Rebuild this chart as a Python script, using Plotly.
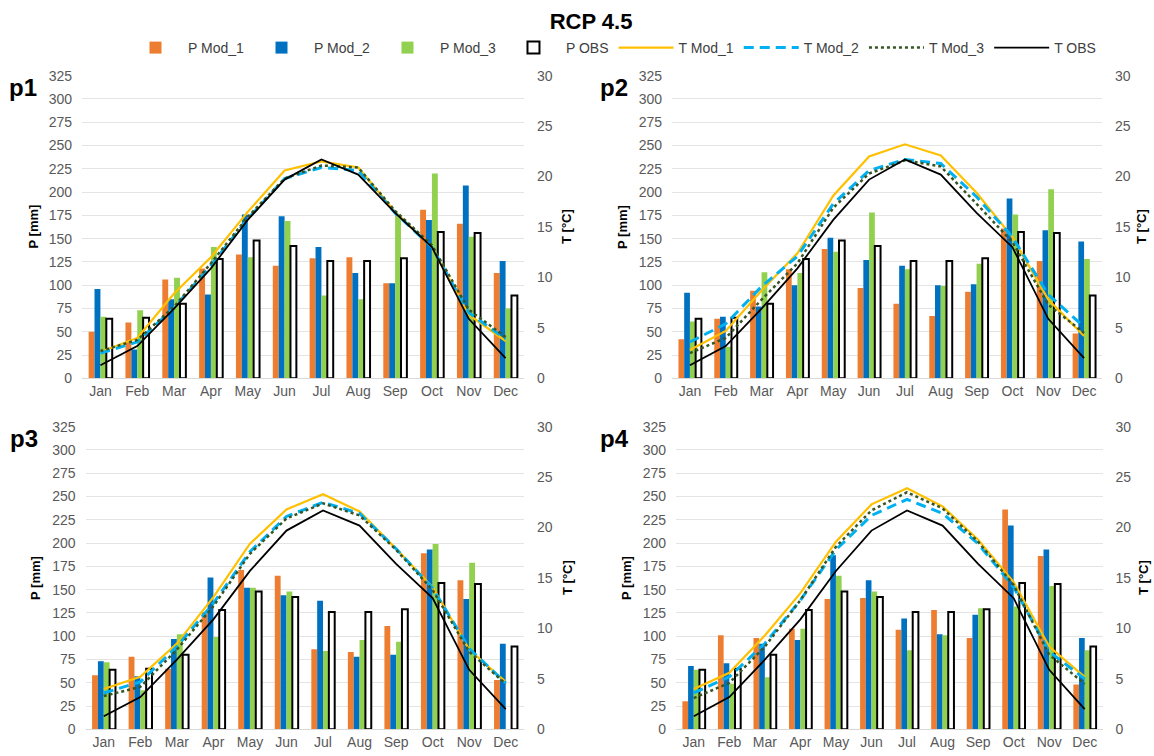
import plotly.graph_objects as go
from plotly.subplots import make_subplots

months = ["Jan", "Feb", "Mar", "Apr", "May", "Jun", "Jul", "Aug", "Sep", "Oct", "Nov", "Dec"]

P_OBS = [64, 65, 80, 128, 148, 142, 126, 126, 129, 157, 156, 89]
T_OBS = [1.3, 3.2, 6.9, 10.9, 15.7, 19.7, 21.7, 20.2, 16.4, 13.0, 5.9, 2.0]

# p1
P1_M1 = [50, 60, 106, 118, 133, 121, 129, 130, 102, 181, 166, 113]
P1_M2 = [96, 31, 85, 90, 176, 174, 141, 113, 102, 170, 207, 126]
P1_M3 = [66, 73, 108, 141, 130, 169, 89, 85, 176, 220, 152, 75]
T1_M1 = [2.6, 4.0, 8.4, 12.0, 16.5, 20.6, 21.5, 20.9, 16.5, 13.0, 6.3, 3.7]
T1_M2 = [2.5, 3.6, 7.0, 11.2, 15.8, 19.8, 20.9, 20.6, 16.4, 13.0, 6.5, 3.9]
T1_M3 = [2.7, 3.8, 7.1, 11.4, 16.0, 19.8, 21.1, 20.9, 16.6, 13.2, 6.8, 4.1]

# p2
P2_M1 = [42, 64, 94, 117, 139, 97, 80, 67, 93, 161, 126, 48]
P2_M2 = [92, 66, 77, 100, 151, 127, 121, 100, 101, 193, 159, 147]
P2_M3 = [61, 34, 114, 113, 136, 178, 117, 99, 123, 176, 203, 128]
T2_M1 = [2.8, 4.7, 8.7, 12.4, 18.1, 22.0, 23.2, 22.1, 18.4, 14.0, 7.8, 4.2]
T2_M2 = [3.6, 5.4, 9.1, 12.1, 17.3, 20.6, 21.7, 21.3, 18.0, 14.0, 8.3, 5.1]
T2_M3 = [2.5, 4.0, 7.8, 11.4, 16.9, 20.3, 21.6, 21.0, 17.3, 13.5, 7.3, 4.5]

# p3
P3_M1 = [58, 78, 65, 126, 171, 165, 86, 83, 111, 189, 160, 53]
P3_M2 = [73, 57, 97, 163, 152, 144, 138, 78, 80, 193, 140, 92]
P3_M3 = [72, 42, 102, 99, 152, 148, 84, 96, 94, 199, 179, 0]
T3_M1 = [4.0, 5.2, 8.5, 13.1, 18.4, 21.8, 23.3, 21.6, 17.9, 14.1, 7.9, 4.7]
T3_M2 = [3.6, 4.7, 8.2, 12.5, 17.6, 21.1, 22.5, 21.4, 17.9, 14.0, 8.0, 4.6]
T3_M3 = [3.3, 4.2, 7.9, 12.2, 17.4, 20.9, 22.4, 21.2, 17.8, 13.8, 7.7, 4.5]

# p4
P4_M1 = [30, 101, 98, 108, 140, 141, 107, 128, 98, 236, 186, 48]
P4_M2 = [68, 71, 92, 96, 187, 160, 119, 102, 123, 219, 193, 98]
P4_M3 = [64, 49, 56, 108, 165, 148, 85, 101, 130, 132, 154, 85]
T4_M1 = [4.0, 5.6, 9.3, 13.5, 18.6, 22.3, 23.9, 22.1, 18.8, 14.6, 8.2, 5.2]
T4_M2 = [3.6, 5.2, 8.5, 12.8, 17.8, 21.2, 22.8, 21.4, 18.4, 14.1, 7.7, 5.0]
T4_M3 = [3.1, 4.6, 8.2, 12.8, 18.1, 21.7, 23.5, 21.9, 18.6, 14.3, 7.4, 4.5]

panels = [
    ("p1", 1, 1, P1_M1, P1_M2, P1_M3, T1_M1, T1_M2, T1_M3),
    ("p2", 1, 2, P2_M1, P2_M2, P2_M3, T2_M1, T2_M2, T2_M3),
    ("p3", 2, 1, P3_M1, P3_M2, P3_M3, T3_M1, T3_M2, T3_M3),
    ("p4", 2, 2, P4_M1, P4_M2, P4_M3, T4_M1, T4_M2, T4_M3),
]

OFF = 0  # page body margin is removed by the post script
W, H = 1154, 756
FONT = "Liberation Sans, Arial, sans-serif"
C_OR, C_BL, C_GR = "#ED7D31", "#0070C0", "#92D050"
C_Y, C_LB, C_DG = "#FFC000", "#00B0F0", "#375623"


def fx(px):
    return (px - OFF) / W


def fy(py):
    return 1 - (py - OFF) / H


# screen-pixel layout: plot box (L, R, T, B), label right edge, P-title x, T-title x
boxes = {
    (1, 1): dict(box=(82, 524, 75.7, 378.3), lab=39, pt=33.5, tt=567),
    (1, 2): dict(box=(672, 1102, 75.7, 378.3), lab=630, pt=623, tt=1142),
    (2, 1): dict(box=(85.5, 524, 426.7, 729.3), lab=40, pt=35, tt=567),
    (2, 2): dict(box=(676, 1102.5, 426.7, 729.3), lab=631, pt=626, tt=1143),
}

fig = make_subplots(rows=2, cols=2, specs=[[{"secondary_y": True}] * 2] * 2)

for name, r, c, m1, m2, m3, t1, t2, t3 in panels:
    show = (r == 1 and c == 1)
    bars = [("P Mod_1", m1, C_OR), ("P Mod_2", m2, C_BL), ("P Mod_3", m3, C_GR)]
    for nm, vals, col in bars:
        fig.add_trace(go.Bar(x=months, y=vals, name=nm, marker=dict(color=col, line=dict(width=0)),
                             showlegend=show, legendgroup=nm), row=r, col=c, secondary_y=False)
    fig.add_trace(go.Bar(x=months, y=P_OBS, name="P OBS",
                         marker=dict(color="white", line=dict(color="black", width=2)),
                         showlegend=show, legendgroup="P OBS"), row=r, col=c, secondary_y=False)
    lines = [("T Mod_1", t1, dict(color=C_Y, width=2.2)),
             ("T Mod_2", t2, dict(color=C_LB, width=3, dash="10px,6px")),
             ("T Mod_3", t3, dict(color=C_DG, width=2.5, dash="dot")),
             ("T OBS", T_OBS, dict(color="black", width=1.8))]
    for nm, vals, ln in lines:
        fig.add_trace(go.Scatter(x=months, y=vals, name=nm, mode="lines", line=ln,
                                 showlegend=show, legendgroup=nm), row=r, col=c, secondary_y=True)

    cfg = boxes[(r, c)]
    L, R, T, B = cfg["box"]
    fig.update_xaxes(domain=[fx(L), fx(R)], row=r, col=c, automargin=False,
                     showgrid=False, showline=True, linecolor="#D9D9D9", linewidth=1,
                     ticks="", tickfont=dict(size=14, color="#595959", family=FONT))
    fig.update_yaxes(domain=[fy(B), fy(T)], row=r, col=c, secondary_y=False,
                     automargin=False,
                     range=[0, 325], tickvals=list(range(0, 326, 25)),
                     showgrid=True, gridcolor="#E4E4E4", gridwidth=1, zeroline=False,
                     ticks="", ticklabelstandoff=9,
                     tickfont=dict(size=14, color="#595959", family=FONT))
    fig.update_yaxes(row=r, col=c, secondary_y=True, automargin=False,
                     range=[0, 30], tickvals=list(range(0, 31, 5)), showgrid=False, zeroline=False,
                     ticks="", ticklabelstandoff=12,
                     tickfont=dict(size=14, color="#595959", family=FONT))

    # panel label and axis titles
    fig.add_annotation(x=fx(cfg["lab"]), y=fy(T + 12), xref="paper", yref="paper",
                       text="<b>%s</b>" % name, showarrow=False, xanchor="right", yanchor="middle",
                       font=dict(size=24, color="black", family=FONT))
    fig.add_annotation(x=fx(cfg["pt"]), y=fy((T + B) / 2), xref="paper", yref="paper",
                       text="<b>P [mm]</b>", showarrow=False, textangle=-90,
                       xanchor="center", yanchor="middle",
                       font=dict(size=13, color="black", family=FONT))
    fig.add_annotation(x=fx(cfg["tt"]), y=fy((T + B) / 2), xref="paper", yref="paper",
                       text="<b>T [°C]</b>", showarrow=False, textangle=-90,
                       xanchor="center", yanchor="middle",
                       font=dict(size=13, color="black", family=FONT))

fig.update_layout(
    width=W, height=H,
    margin=dict(l=0, r=0, t=0, b=0),
    paper_bgcolor="white", plot_bgcolor="white",
    barmode="group", bargap=0.36, bargroupgap=0,
    font=dict(family=FONT, color="#404040"),
    title=dict(text="<b>RCP 4.5</b>", x=fx(591), xanchor="center", y=fy(21), yanchor="middle",
               font=dict(size=22, color="black", family=FONT)),
    legend=dict(orientation="h", x=fx(612), xanchor="center", y=fy(48), yanchor="middle",
                font=dict(size=14, color="#404040", family=FONT), itemwidth=55,
                tracegroupgap=0, bgcolor="rgba(0,0,0,0)"),
)

fig.write_html("out.html",
               config={"displayModeBar": False},
               post_script="document.body.style.margin='0';document.body.style.overflow='hidden';")
